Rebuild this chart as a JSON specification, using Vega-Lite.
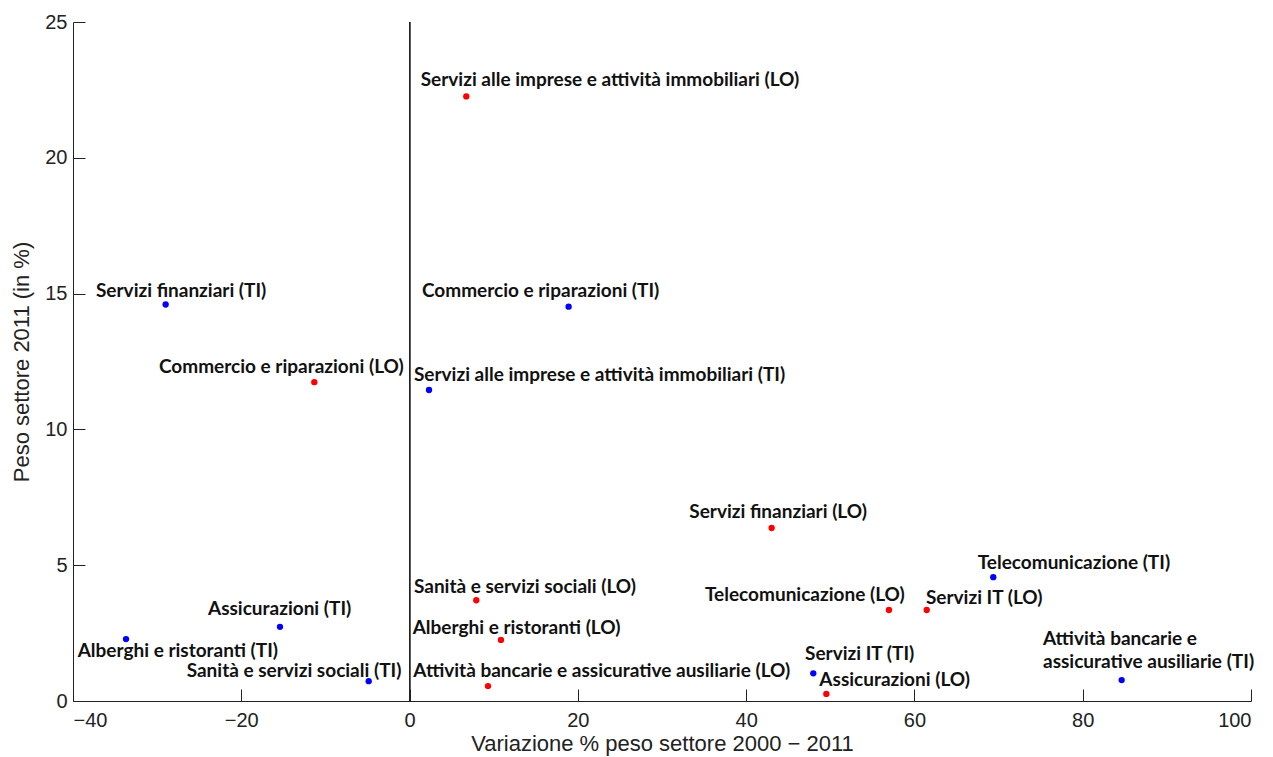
{
  "$schema": "https://vega.github.io/schema/vega-lite/v6.json",
  "width": 1178,
  "height": 679,
  "autosize": {"type": "none"},
  "padding": {"left": 73, "top": 22, "right": 22, "bottom": 56},
  "background": "white",
  "config": {
    "view": {"stroke": null},
    "axis": {"grid": false, "labelFont": "Liberation Sans", "titleFont": "Liberation Sans", "labelFontSize": 20, "titleFontSize": 22, "titleFontWeight": "normal", "labelColor": "#222", "titleColor": "#222", "domainColor": "#222", "tickColor": "#222", "tickSize": -12, "labelPadding": 21}
  },
  "data": {
    "values": [
      {"name": "Servizi alle imprese e attività immobiliari (LO)", "region": "LO", "x": 6.74, "y": 22.26, "lx": 1.32, "ly": 22.85},
      {"name": "Servizi finanziari (TI)", "region": "TI", "x": -28.99, "y": 14.6, "lx": -37.27, "ly": 15.11},
      {"name": "Commercio e riparazioni (LO)", "region": "LO", "x": -11.32, "y": 11.74, "lx": -29.78, "ly": 12.29},
      {"name": "Commercio e riparazioni (TI)", "region": "TI", "x": 18.9, "y": 14.52, "lx": 1.47, "ly": 15.1},
      {"name": "Servizi alle imprese e attività immobiliari (TI)", "region": "TI", "x": 2.31, "y": 11.45, "lx": 0.52, "ly": 12.0},
      {"name": "Servizi finanziari (LO)", "region": "LO", "x": 43.03, "y": 6.37, "lx": 33.24, "ly": 6.95},
      {"name": "Telecomunicazione (TI)", "region": "TI", "x": 69.37, "y": 4.56, "lx": 67.52, "ly": 5.09},
      {"name": "Telecomunicazione (LO)", "region": "LO", "x": 56.97, "y": 3.35, "lx": 35.11, "ly": 3.9},
      {"name": "Servizi IT (LO)", "region": "LO", "x": 61.46, "y": 3.35, "lx": 61.37, "ly": 3.78},
      {"name": "Sanità e servizi sociali (LO)", "region": "LO", "x": 7.93, "y": 3.71, "lx": 0.52, "ly": 4.21},
      {"name": "Alberghi e ristoranti (LO)", "region": "LO", "x": 10.86, "y": 2.25, "lx": 0.37, "ly": 2.7},
      {"name": "Attività bancarie e assicurative ausiliarie (LO)", "region": "LO", "x": 9.32, "y": 0.55, "lx": 0.44, "ly": 1.09},
      {"name": "Servizi IT (TI)", "region": "TI", "x": 47.98, "y": 1.02, "lx": 47.0, "ly": 1.72},
      {"name": "Assicurazioni (LO)", "region": "LO", "x": 49.53, "y": 0.26, "lx": 48.7, "ly": 0.77},
      {"name": "Attività bancarie e\nassicurative ausiliarie (TI)", "region": "TI", "x": 84.63, "y": 0.77, "lx": 75.28, "ly": 2.28},
      {"name": "Assicurazioni (TI)", "region": "TI", "x": -15.4, "y": 2.73, "lx": -23.96, "ly": 3.39},
      {"name": "Alberghi e ristoranti (TI)", "region": "TI", "x": -33.7, "y": 2.28, "lx": -39.45, "ly": 1.84},
      {"name": "Sanità e servizi sociali (TI)", "region": "TI", "x": -4.86, "y": 0.73, "lx": -26.49, "ly": 1.12}
    ]
  },
  "layer": [
    {
      "mark": {"type": "rule", "color": "#222", "strokeWidth": 1},
      "encoding": {
        "x": {"datum": 0, "type": "quantitative", "scale": {"domain": [-40, 100], "nice": false, "zero": false}}
      }
    },
    {
      "mark": {"type": "circle", "size": 40, "opacity": 1},
      "encoding": {
        "x": {"field": "x", "type": "quantitative", "scale": {"domain": [-40, 100], "nice": false, "zero": false},
              "axis": {"title": "Variazione % peso settore 2000 − 2011", "values": [-40, -20, 0, 20, 40, 60, 80, 100], "titlePadding": 3}},
        "y": {"field": "y", "type": "quantitative", "scale": {"domain": [0, 25], "nice": false, "zero": false},
              "axis": {"title": "Peso settore 2011 (in %)", "values": [0, 5, 10, 15, 20, 25], "titlePadding": 11, "labelPadding": 18}},
        "color": {"field": "region", "type": "nominal", "scale": {"domain": ["LO", "TI"], "range": ["#ff0000", "#0000ff"]}, "legend": null}
      }
    },
    {
      "mark": {"type": "text", "align": "left", "baseline": "middle", "font": "Lato", "fontWeight": "bold", "fontSize": 19, "color": "#111", "lineBreak": "\n", "lineHeight": 23},
      "encoding": {
        "x": {"field": "lx", "type": "quantitative"},
        "y": {"field": "ly", "type": "quantitative"},
        "text": {"field": "name", "type": "nominal"}
      }
    }
  ]
}
